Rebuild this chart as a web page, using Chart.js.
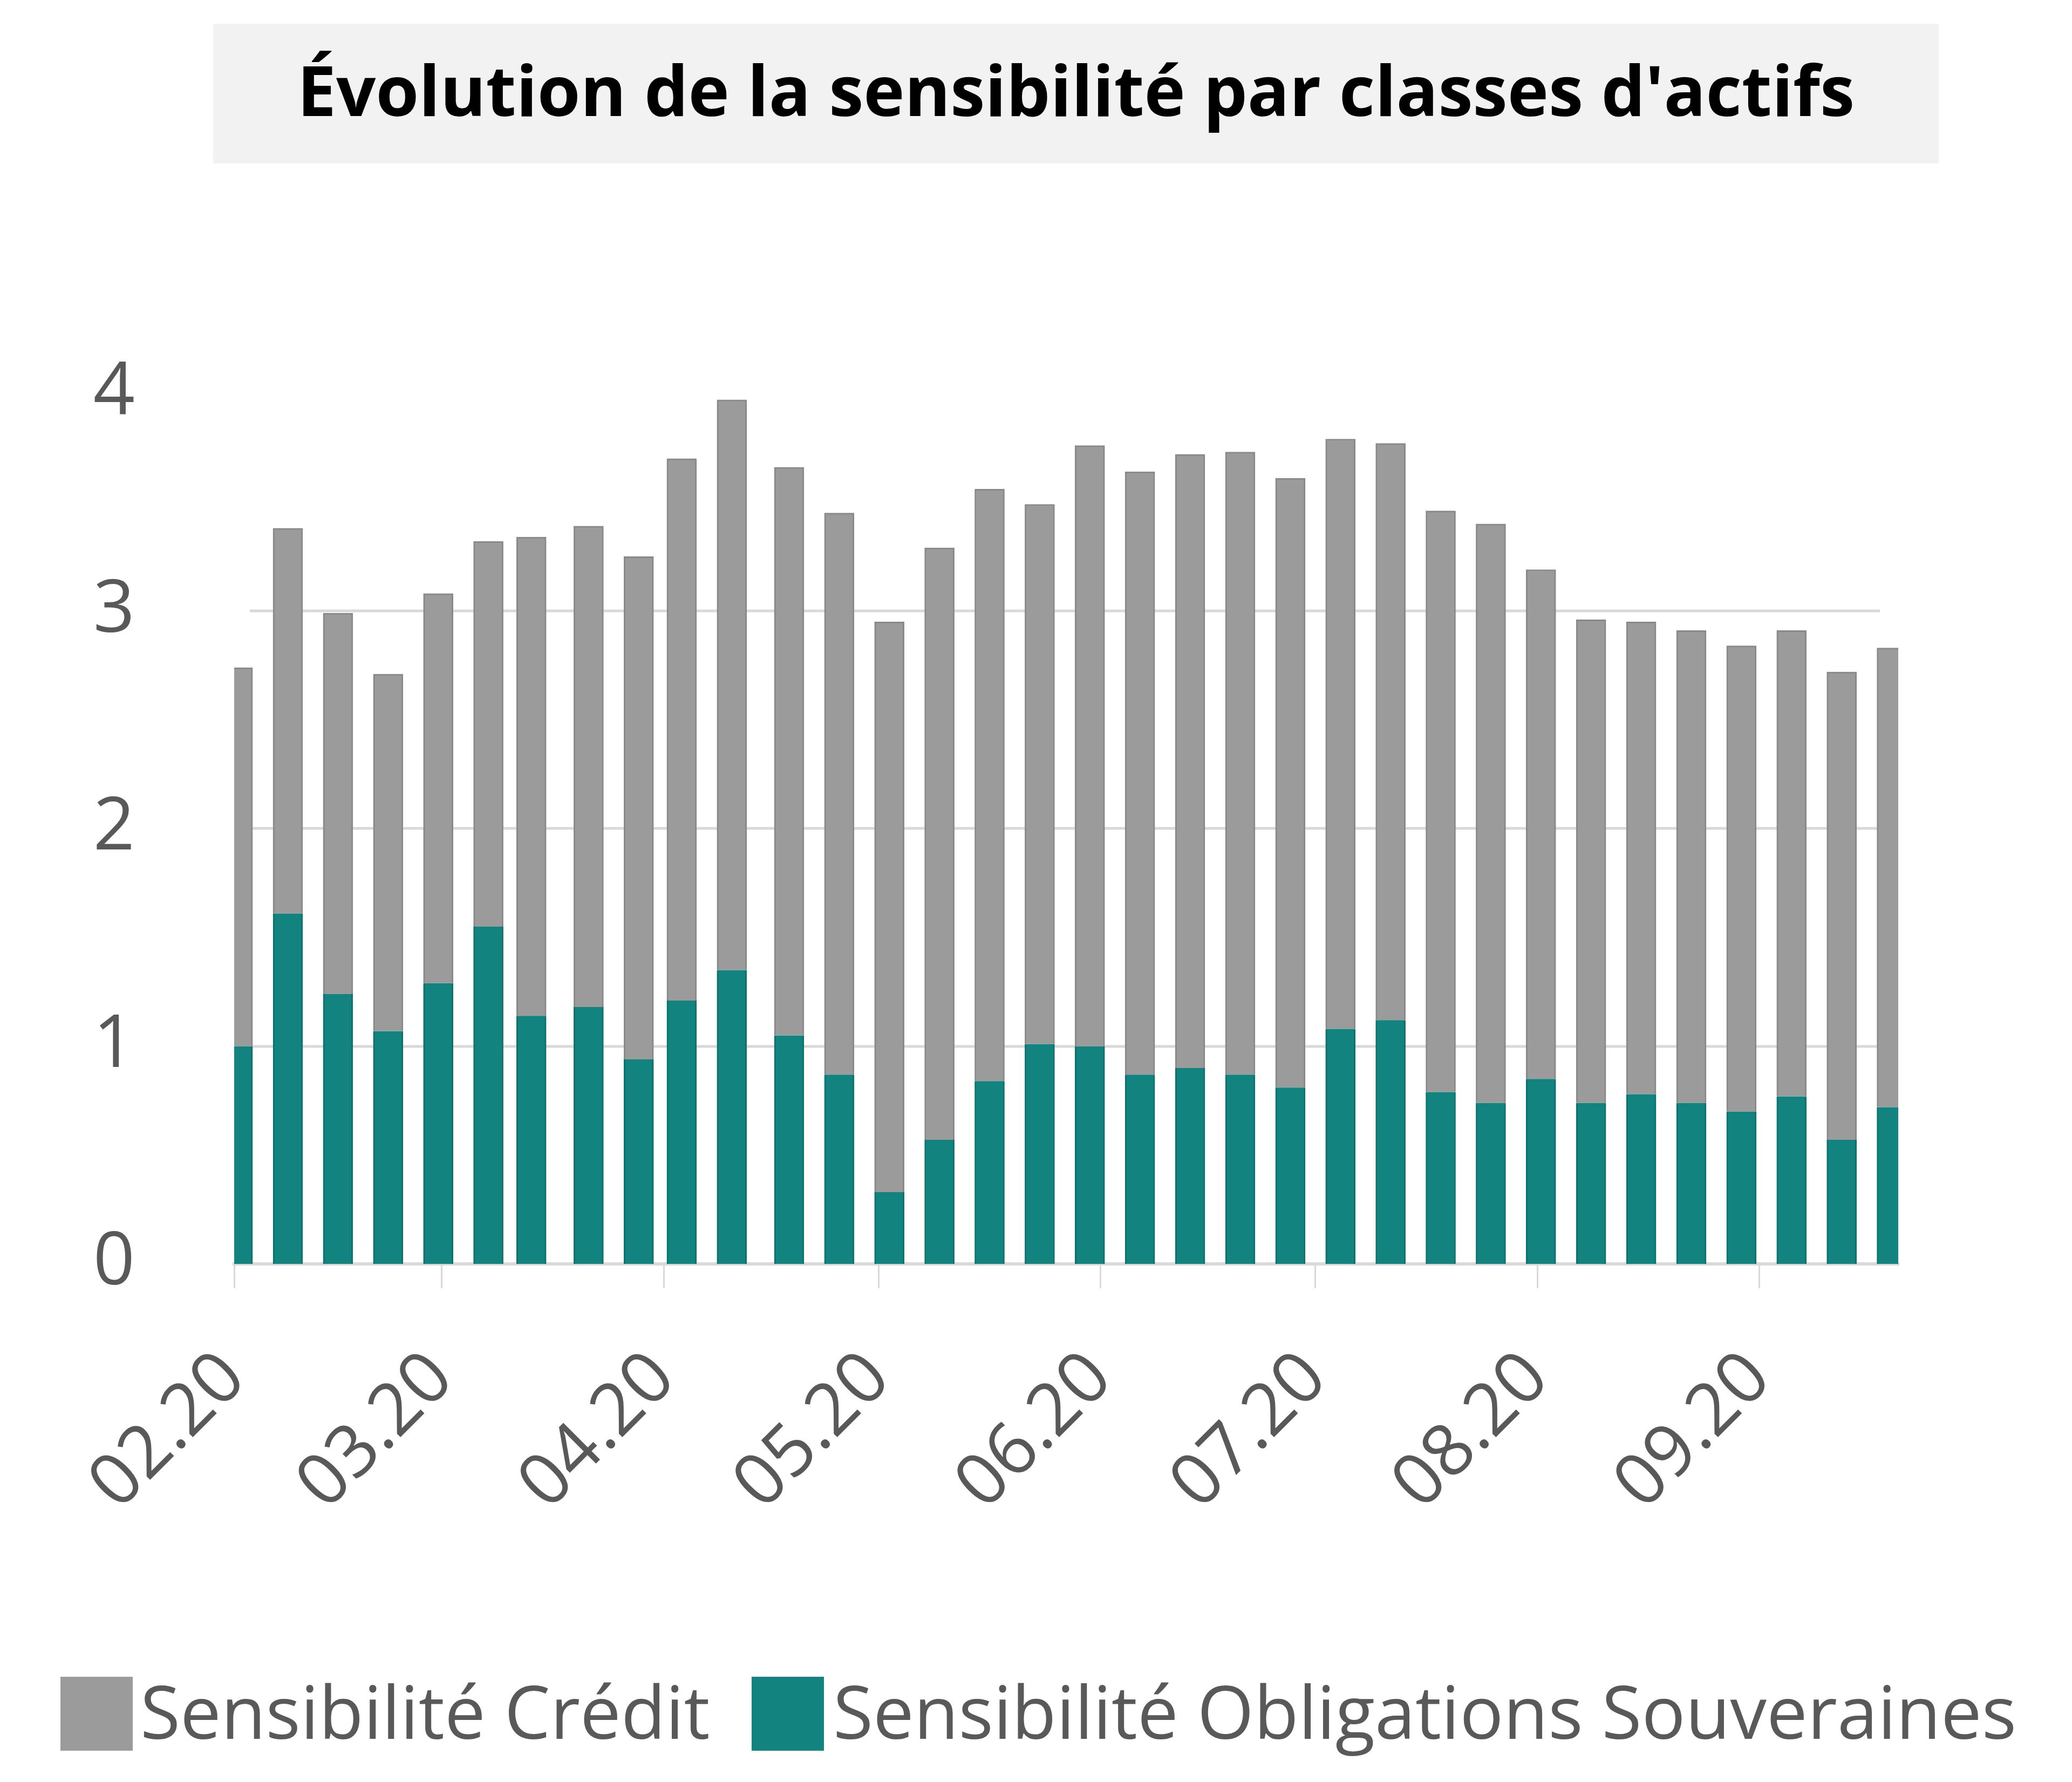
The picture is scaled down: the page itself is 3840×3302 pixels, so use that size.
<!DOCTYPE html>
<html>
<head>
<meta charset="utf-8">
<script src="https://cdn.jsdelivr.net/npm/chart.js@4.4.1/dist/chart.umd.min.js"></script>
<style>
html,body{margin:0;padding:0;background:#ffffff;}
canvas{display:block;}
</style>
</head>
<body>
<canvas id="chart" width="3840" height="3302" style="width:3840px;height:3302px"></canvas>
<script>
// ---- data ----
const titleText = "Évolution de la sensibilité par classes d'actifs";
const seriesNames = ['Sensibilité Obligations Souveraines', 'Sensibilité Crédit'];
const dates = [
  '2020-02-01','2020-02-08','2020-02-15','2020-02-22','2020-02-29','2020-03-07','2020-03-13',
  '2020-03-21','2020-03-28','2020-04-03','2020-04-10','2020-04-18','2020-04-25','2020-05-02',
  '2020-05-09','2020-05-16','2020-05-23','2020-05-30','2020-06-06','2020-06-13','2020-06-20',
  '2020-06-27','2020-07-04','2020-07-11','2020-07-18','2020-07-25','2020-08-01','2020-08-08',
  '2020-08-15','2020-08-22','2020-08-29','2020-09-05','2020-09-12','2020-09-19'
];
const sovereign = [
  1.00,1.61,1.24,1.07,1.29,1.55,1.14,1.18,0.94,1.21,1.35,1.05,0.87,0.33,0.57,0.84,1.01,
  1.00,0.87,0.90,0.87,0.81,1.08,1.12,0.79,0.74,0.85,0.74,0.78,0.74,0.70,0.77,0.57,0.72
];
const credit = [
  1.74,1.77,1.75,1.64,1.79,1.77,2.20,2.21,2.31,2.49,2.62,2.61,2.58,2.62,2.72,2.72,2.48,
  2.76,2.77,2.82,2.86,2.80,2.71,2.65,2.67,2.66,2.34,2.22,2.17,2.17,2.14,2.14,2.15,2.11
];
const tickDates = ['2020-02-01','2020-03-01','2020-04-01','2020-05-01','2020-06-01','2020-07-01','2020-08-01','2020-09-01'];
const tickLabels = ['02.20','03.20','04.20','05.20','06.20','07.20','08.20','09.20'];
const yTicks = [0, 1, 2, 3, 4];
const gridValues = [1, 2, 3];
const axisStartDate = '2020-02-01';
const axisEndDays = 232.4;

// ---- helpers ----
const FONT = '"Open Sans", "Noto Sans", sans-serif';
function dayOf(s) {
  const t = Date.UTC(+s.slice(0,4), +s.slice(5,7) - 1, +s.slice(8,10));
  const t0 = Date.UTC(+axisStartDate.slice(0,4), +axisStartDate.slice(5,7) - 1, +axisStartDate.slice(8,10));
  return (t - t0) / 86400000;
}
const xs = dates.map(d => dayOf(d) + 0.5);

const pagePlugin = {
  id: 'page',
  beforeDraw(chart, args, o) {
    const c = chart.ctx;
    c.save();
    c.fillStyle = '#ffffff';
    c.fillRect(0, 0, chart.width, chart.height);
    c.fillStyle = o.boxColor;
    c.fillRect(o.box[0], o.box[1], o.box[2], o.box[3]);
    c.restore();
  },
  afterLayout(chart, args, o) {
    const t = chart.titleBlock;
    if (t) { t.left = o.box[0]; t.right = o.box[0] + o.box[2]; t.width = o.box[2]; }
  }
};

// horizontal value gridlines, drawn between the inner plot edges (as in the source)
const gridPlugin = {
  id: 'innerGrid',
  beforeDatasetsDraw(chart, args, o) {
    const c = chart.ctx, y = chart.scales.y;
    c.save();
    c.strokeStyle = o.color;
    c.lineWidth = o.width;
    gridValues.forEach(v => {
      const py = Math.round(y.getPixelForValue(v));
      c.beginPath();
      c.moveTo(o.x0, py);
      c.lineTo(o.x1, py);
      c.stroke();
    });
    c.restore();
  }
};

const legendPlugin = {
  id: 'customLegend',
  afterDraw(chart, args, o) {
    const c = chart.ctx;
    c.save();
    c.font = o.font;
    c.textBaseline = 'alphabetic';
    c.textAlign = 'left';
    o.items.forEach(it => {
      const ds = chart.data.datasets[it.dataset];
      c.fillStyle = ds.backgroundColor;
      c.fillRect(it.boxX, o.boxY, o.boxW, o.boxH);
      c.fillStyle = o.color;
      c.fillText(ds.label, it.textX, o.baseline);
    });
    c.restore();
  }
};

function build() {
  new Chart(document.getElementById('chart'), {
    type: 'bar',
    data: {
      datasets: [
        {
          label: seriesNames[0],
          data: xs.map((x, i) => ({x: x, y: sovereign[i]})),
          backgroundColor: '#13837f',
          borderColor: '#0d716d',
          borderWidth: {left: 3, right: 3, top: 0, bottom: 0},
          borderSkipped: false,
          barThickness: 55,
          clip: 0
        },
        {
          label: seriesNames[1],
          data: xs.map((x, i) => ({x: x, y: credit[i]})),
          backgroundColor: '#9b9b9b',
          borderColor: '#898989',
          borderWidth: {left: 3, right: 3, top: 3, bottom: 0},
          borderSkipped: false,
          barThickness: 55,
          clip: 0
        }
      ]
    },
    options: {
      responsive: false,
      animation: false,
      devicePixelRatio: 1,
      layout: {padding: {top: 44, left: 0, right: 322, bottom: 0}},
      scales: {
        x: {
          type: 'linear',
          stacked: true,
          min: 0,
          max: axisEndDays,
          offset: false,
          afterBuildTicks: s => { s.ticks = tickDates.map(d => ({value: dayOf(d)})); },
          afterFit: s => { s.height = 960; },
          border: {display: true, color: '#d9d9d9', width: 6},
          grid: {display: true, drawOnChartArea: false, drawTicks: true, tickLength: 45, color: '#d9d9d9', lineWidth: 3, offset: false},
          ticks: {
            autoSkip: false, maxRotation: 45, minRotation: 45, padding: 117,
            color: '#595959',
            font: {family: FONT, size: 134, lineHeight: 0.6},
            callback: (v, i) => tickLabels[i]
          }
        },
        y: {
          stacked: true,
          min: 0,
          max: 4,
          afterBuildTicks: s => { s.ticks = yTicks.map(v => ({value: v})); },
          afterFit: s => { s.width = 434; },
          border: {display: false},
          grid: {display: true, drawTicks: false, lineWidth: 0, color: 'rgba(0,0,0,0)'},
          ticks: {padding: 184, color: '#595959', font: {family: FONT, size: 135}}
        }
      },
      plugins: {
        legend: {display: false},
        tooltip: {enabled: false},
        title: {
          display: true,
          text: titleText,
          color: '#000000',
          font: {family: FONT, size: 129, weight: 'bold', lineHeight: 1.2},
          padding: {top: 57, bottom: 473}
        },
        page: {box: [395, 44, 3198, 259], boxColor: '#f2f2f2'},
        innerGrid: {x0: 463, x1: 3484, color: '#d9d9d9', width: 5},
        customLegend: {
          font: '135px ' + FONT,
          color: '#595959',
          boxY: 3107, boxW: 134, boxH: 137, baseline: 3222,
          items: [
            {dataset: 1, boxX: 112, textX: 260},
            {dataset: 0, boxX: 1393, textX: 1544}
          ]
        }
      }
    },
    plugins: [pagePlugin, gridPlugin, legendPlugin]
  });
}

Promise.all([
  document.fonts.load('135px "Open Sans"'),
  document.fonts.load('bold 129px "Open Sans"')
]).catch(() => {}).then(build);
</script>
</body>
</html>
